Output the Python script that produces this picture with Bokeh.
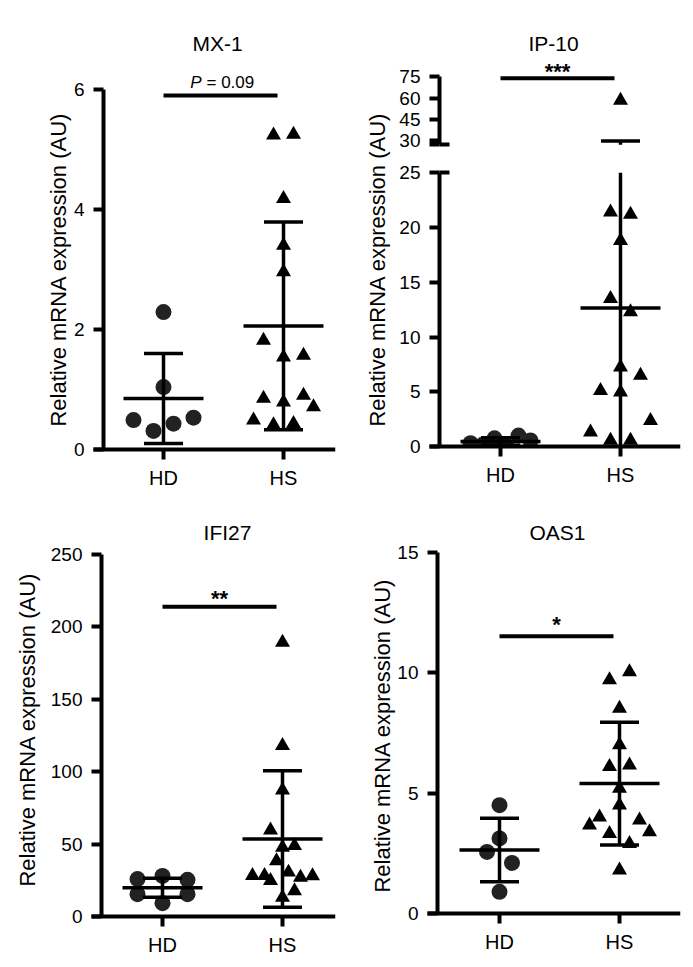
import math
from bokeh.plotting import figure
from bokeh.models import FixedTicker, LinearAxis, Label, Range1d
from bokeh.layouts import column, row
from bokeh.embed import file_html
from bokeh.resources import INLINE

# ---------------- data ----------------
GROUPS = ["HD", "HS"]
Y_LABEL = "Relative mRNA expression (AU)"
TITLES = ["MX-1", "IP-10", "IFI27", "OAS1"]

MX1_HD = [2.29, 1.04, 0.49, 0.31, 0.43, 0.53]
MX1_HS = [5.24, 5.25, 4.18, 3.40, 2.96, 1.82, 1.54, 1.57, 0.85, 0.79, 0.90, 0.49, 0.41, 0.43, 0.71]
MX1_MEAN = [0.85, 2.06]
MX1_SD = [0.75, 1.73]
MX1_TICKS = [0, 2, 4, 6]
MX1_P = ["P", "= 0.09"]
MX1_SIG_Y = 5.9

IP10_HD = [0.30, 0.15, 0.75, 0.05, 1.00, 0.55]
IP10_HS = [58.3, 21.4, 21.2, 18.8, 13.5, 12.3, 7.25, 5.1, 4.96, 6.5, 1.3, 0.55, 0.55, 2.35]
IP10_MEAN = [0.46, 12.64]
IP10_SD = [0.35, 17.36]
IP10_TICKS_LOW = [0, 5, 10, 15, 20, 25]
IP10_TICKS_HIGH = [30, 45, 60, 75]
IP10_BREAK = (25.0, 27.3)
IP10_SIG = "***"
IP10_SIG_Y = 73.8

IFI27_HD = [25.8, 28.0, 25.3, 15.4, 9.2, 15.4]
IFI27_HS = [189.0, 117.8, 87.2, 59.6, 47.6, 48.8, 28.1, 28.2, 38.4, 30.5, 27.0, 28.0, 24.7, 13.1, 17.7]
IFI27_MEAN = [19.8, 53.4]
IFI27_SD = [6.6, 47.1]
IFI27_TICKS = [0, 50, 100, 150, 200, 250]
IFI27_SIG = "**"
IFI27_SIG_Y = 213.7

OAS1_HD = [4.5, 3.12, 2.56, 2.1, 0.9]
OAS1_HS = [9.7, 10.04, 8.52, 7.0, 6.1, 6.16, 5.2, 4.0, 4.5, 3.88, 3.67, 3.32, 2.9, 3.39, 1.8]
OAS1_MEAN = [2.64, 5.4]
OAS1_SD = [1.32, 2.55]
OAS1_TICKS = [0, 5, 10, 15]
OAS1_SIG = "*"
OAS1_SIG_Y = 11.52

# ---------------- style / layout ----------------
FONT = "Liberation Sans"
PX_PER_X = 120.0
FRAME_LEFT = 6
FRAME_TOP = 18
FRAME_BOTTOM = 2
TICK_PX = 10
ROW_H = 20.0
SWARM_W = 60.0
SWARM_MAX = 25.0
MEAN_HALF_PX = 40.0
CAP_HALF_PX = 19.5
LW = 3.5
AXIS_LW = 4
SIG_X = (1.0, 1.95)
GAP_PX = 28.0
UPPER_PX_PER_UNIT = 1.43


def swarm_offsets(vals, ppu):
    order = sorted(range(len(vals)), key=lambda i: (vals[i], i))
    rows, cur, start = [], [], None
    for i in order:
        if cur and (vals[i] - start) * ppu >= ROW_H:
            rows.append(cur)
            cur = []
        if not cur:
            start = vals[i]
        cur.append(i)
    if cur:
        rows.append(cur)
    nmax = max(len(r) for r in rows)
    sp = SWARM_MAX if nmax < 2 else min(SWARM_MAX, SWARM_W / (nmax - 1))
    offs = [0.0] * len(vals)
    for r in rows:
        r = sorted(r)
        k = len(r)
        for j, i in enumerate(r):
            offs[i] = (j - (k - 1) / 2.0) * sp
    return offs


def style_axis(ax, size, standoff):
    ax.axis_line_width = AXIS_LW
    ax.axis_line_color = "black"
    ax.major_tick_line_width = AXIS_LW
    ax.major_tick_line_color = "black"
    ax.minor_tick_line_color = None
    ax.major_tick_in = 0
    ax.major_tick_out = TICK_PX
    ax.major_label_text_font = FONT
    ax.major_label_text_font_size = size
    ax.major_label_text_color = "black"
    ax.major_label_standoff = standoff


class Panel:
    def __init__(self, w, h, mbr, axis_bottom_px, ppu_y, axis_px, hd_px):
        self.w, self.h, self.ppu = w, h, ppu_y
        self.axis_bottom = axis_bottom_px
        self.hd_px = hd_px
        frame_w = w - FRAME_LEFT - mbr
        x0 = 1 - (hd_px - FRAME_LEFT) / PX_PER_X
        x1 = x0 + frame_w / PX_PER_X
        y0 = self.px_y(h - FRAME_BOTTOM)
        y1 = self.px_y(FRAME_TOP)
        self.x0, self.x1, self.y0 = x0, x1, y0
        p = figure(width=w, height=h, x_range=Range1d(x0, x1), y_range=Range1d(y0, y1),
                   min_border_left=FRAME_LEFT, min_border_right=mbr,
                   min_border_top=FRAME_TOP, min_border_bottom=FRAME_BOTTOM,
                   output_backend="svg", toolbar_location=None, tools="")
        p.outline_line_color = None
        p.xgrid.grid_line_color = None
        p.ygrid.grid_line_color = None
        p.yaxis.visible = False
        p.xaxis.visible = False
        self.p = p
        self.xloc = self.px_x(axis_px)
        xa = LinearAxis(fixed_location=0, bounds=(self.xloc - TICK_PX / PX_PER_X, x1),
                        ticker=FixedTicker(ticks=[1, 2]),
                        major_label_overrides={1: GROUPS[0], 2: GROUPS[1]})
        style_axis(xa, "20px", 7)
        p.add_layout(xa, "below")

    def px_x(self, px):
        return 1 + (px - self.hd_px) / PX_PER_X

    def px_y(self, py):
        return (self.h - self.axis_bottom - py) / self.ppu

    def yaxis(self, ticks, bounds, overrides=None, size="19px"):
        ax = LinearAxis(fixed_location=self.xloc, bounds=bounds, ticker=FixedTicker(ticks=ticks))
        style_axis(ax, size, 9)
        if overrides:
            ax.major_label_overrides = overrides
        self.p.add_layout(ax, "left")
        return ax

    def label(self, px, py, text, size, style="normal", angle=0.0, align="center"):
        self.p.add_layout(Label(x=self.px_x(px), y=self.px_y(py), text=text, text_font=FONT,
                                text_font_size=size, text_font_style=style, angle=angle,
                                text_align=align, text_baseline="middle", text_color="black"))

    def titles(self, title, tpos, ypos):
        self.label(tpos[0], tpos[1], title, "21px")
        self.label(ypos[0], ypos[1], Y_LABEL, "22px", angle=math.pi / 2)

    def sig(self, y, text, up_px, size="22px", style="bold"):
        p = self.p
        p.segment([SIG_X[0]], [y], [SIG_X[1]], [y], line_width=AXIS_LW, line_color="black")
        mid = (SIG_X[0] + SIG_X[1]) / 2
        p.add_layout(Label(x=mid, y=y + up_px / self.ppu, text=text, text_font=FONT,
                           text_font_size=size, text_font_style=style, text_align="center",
                           text_baseline="middle", text_color="black"))

    def groups(self, hd, hs, means, sds, fwd=lambda v: v, brk=None):
        p = self.p
        for g, vals, marker, size, color in [(1, hd, "circle", 16, "#222222"),
                                              (2, hs, "triangle", 15, "black")]:
            yv = [fwd(v) for v in vals]
            offs = swarm_offsets(yv, self.ppu)
            xs = [g + o / PX_PER_X for o in offs]
            p.scatter(xs, yv, marker=marker, size=size, fill_color=color, line_color=None)
        # mask everything below the x axis (points are clipped at zero, as in the original)
        p.quad(left=[self.x0], right=[self.x1], bottom=[self.y0], top=[0],
               fill_color="white", line_color=None)
        mh = MEAN_HALF_PX / PX_PER_X
        ch = CAP_HALF_PX / PX_PER_X
        x0s, y0s, x1s, y1s = [], [], [], []

        def seg(a, b, c, d):
            x0s.append(a); y0s.append(b); x1s.append(c); y1s.append(d)

        for i, (m, s) in enumerate(zip(means, sds)):
            g = i + 1
            lo, hi = max(m - s, 0.0), m + s
            seg(g - mh, fwd(m), g + mh, fwd(m))
            if m - s > 0:
                seg(g - ch, fwd(lo), g + ch, fwd(lo))
            seg(g - ch, fwd(hi), g + ch, fwd(hi))
            if brk is not None and hi > brk[0]:
                seg(g, fwd(lo), g, brk[0])
                if hi > brk[1]:
                    seg(g, fwd(brk[1]), g, fwd(hi))
            else:
                seg(g, fwd(lo), g, fwd(hi))
        p.segment(x0s, y0s, x1s, y1s, line_width=LW, line_color="black")


# ---------- MX-1 ----------
a = Panel(345, 490, 10, 41, 60.0, 103, 163)
a.groups(MX1_HD, MX1_HS, MX1_MEAN, MX1_SD)
a.yaxis(MX1_TICKS, (MX1_TICKS[0], MX1_TICKS[-1]))
a.titles(TITLES[0], (217, 43), (58, 269))
a.p.segment([SIG_X[0]], [MX1_SIG_Y], [SIG_X[1]], [MX1_SIG_Y], line_width=AXIS_LW, line_color="black")
mid = (SIG_X[0] + SIG_X[1]) / 2
a.p.add_layout(Label(x=mid, y=MX1_SIG_Y + 13 / a.ppu, text=MX1_P[0], text_font=FONT,
                     text_font_size="17px", text_font_style="italic", text_align="right",
                     text_baseline="middle", x_offset=-19, text_color="black"))
a.p.add_layout(Label(x=mid, y=MX1_SIG_Y + 13 / a.ppu, text=MX1_P[1], text_font=FONT,
                     text_font_size="17px", text_align="left", text_baseline="middle",
                     x_offset=-14, text_color="black"))

# ---------- IP-10 (broken axis) ----------
b = Panel(338, 490, 3, 44, 10.948, 94, 155)


def fwd_ip10(v):
    if v <= IP10_BREAK[0]:
        return v
    return IP10_BREAK[0] + GAP_PX / b.ppu + (v - IP10_BREAK[1]) * UPPER_PX_PER_UNIT / b.ppu


b.groups(IP10_HD, IP10_HS, IP10_MEAN, IP10_SD, fwd=fwd_ip10, brk=IP10_BREAK)
b.yaxis(IP10_TICKS_LOW, (IP10_TICKS_LOW[0], IP10_TICKS_LOW[-1]))
hi_ticks = [fwd_ip10(IP10_BREAK[1])] + [fwd_ip10(t) for t in IP10_TICKS_HIGH]
hi_over = {fwd_ip10(IP10_BREAK[1]): ""}
for t in IP10_TICKS_HIGH:
    hi_over[fwd_ip10(t)] = str(t)
b.yaxis(hi_ticks, (hi_ticks[0], hi_ticks[-1]), hi_over)
cap_ticks = [IP10_BREAK[0], fwd_ip10(IP10_BREAK[1])]
cap_ax = b.yaxis(cap_ticks, (cap_ticks[0], cap_ticks[-1]), {c: "" for c in cap_ticks}, "1px")
cap_ax.axis_line_color = None
cap_ax.major_tick_in = TICK_PX
cap_ax.major_tick_out = 0
b.titles(TITLES[1], (208, 43), (32, 269))
b.sig(fwd_ip10(IP10_SIG_Y), IP10_SIG, 7)

# ---------- IFI27 ----------
c = Panel(345, 465, 10, 39, 1.4496, 101, 162)
c.groups(IFI27_HD, IFI27_HS, IFI27_MEAN, IFI27_SD)
c.yaxis(IFI27_TICKS, (IFI27_TICKS[0], IFI27_TICKS[-1]))
c.titles(TITLES[2], (227, 42), (27, 239))
c.sig(IFI27_SIG_Y, IFI27_SIG, 8)

# ---------- OAS1 ----------
d = Panel(338, 465, 3, 42, 24.07, 92, 154)
d.groups(OAS1_HD, OAS1_HS, OAS1_MEAN, OAS1_SD)
d.yaxis(OAS1_TICKS, (OAS1_TICKS[0], OAS1_TICKS[-1]))
d.titles(TITLES[3], (212, 42), (37, 245))
d.sig(OAS1_SIG_Y, OAS1_SIG, 12)

layout = column(row(a.p, b.p), row(c.p, d.p))
open("out.html", "w").write(file_html(layout, INLINE))
